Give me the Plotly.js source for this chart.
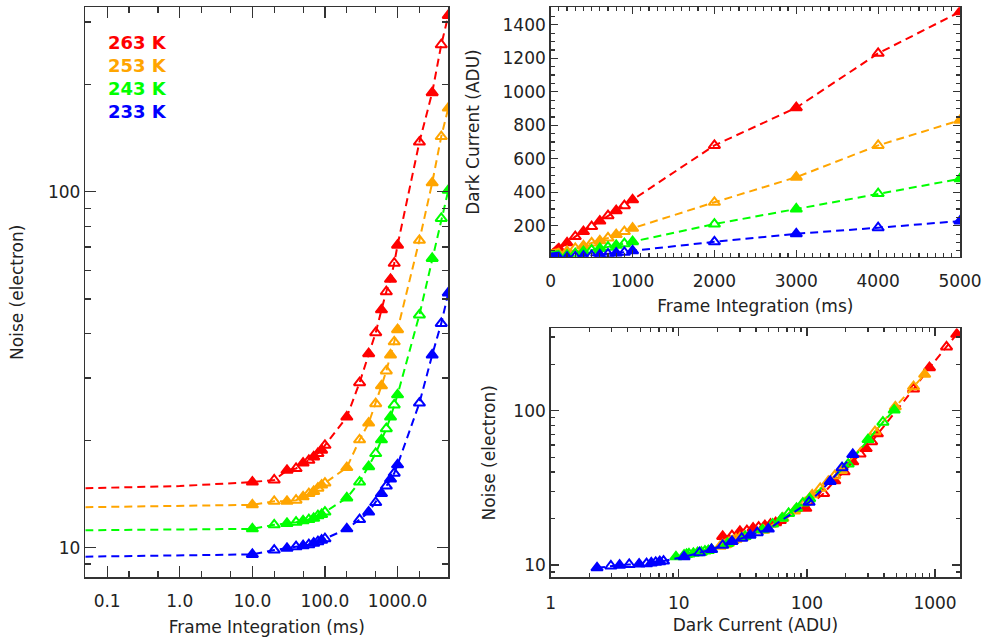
<!DOCTYPE html>
<html>
<head>
<meta charset="utf-8">
<script src="https://cdn.plot.ly/plotly-3.0.1.min.js"></script>
<style>html,body{margin:0;padding:0;background:#fff;}#chart{width:990px;height:640px;}</style>
</head>
<body>
<div id="chart"></div>
<script>
// ---- data ----
const temps = ["263 K", "253 K", "243 K", "233 K"];
const colors = ["#ff0000", "#ffa500", "#00ff00", "#0000ff"];

// frame integration times (ms)
const time = [10,20,30,40,50,60,70,80,90,100,200,300,400,500,600,700,800,900,1000,2000,3000,4000,5000];

// noise (electron)
const noise263 = [15.3,15.5,16.5,16.7,17.3,17.6,18.0,18.4,18.8,19.4,23.3,29.1,35.1,40.2,46.6,52.4,56.8,63.0,70.8,138,190,259,313];
const noise253 = [13.2,13.5,13.5,13.6,13.9,14.2,14.4,14.7,15.0,15.2,16.8,20.1,22.4,25.4,28.5,31.4,34.8,37.9,41.0,73.1,106,143,172];
const noise243 = [11.3,11.6,11.7,11.8,11.9,12.0,12.1,12.3,12.4,12.6,13.8,15.3,16.9,18.4,20.1,21.6,23.3,25.2,26.9,45.1,65.0,84.2,101];
const noise233 = [9.58,9.85,9.96,10.07,10.13,10.2,10.3,10.4,10.5,10.6,11.3,12.0,12.6,13.4,14.2,14.9,15.6,16.2,17.1,25.5,34.8,42.7,52.0];

// read-noise floor of the dashed model line at the shortest times shown
const floorTime = [0.05, 1];
const floor263 = [14.7, 14.9];
const floor253 = [13.0, 13.1];
const floor243 = [11.2, 11.25];
const floor233 = [9.44, 9.5];

// dark current (ADU)
const dc263 = [22,26,30,34,38,42,47,52,57,62,98,135,165,195,228,260,290,320,355,680,905,1230,1478];
const dc253 = [21,22,23,23.5,24.5,25.5,26.5,28,30,32,46,65,80,97,110,127,147,165,185,340,490,680,830];
const dc243 = [9.5,11,11.5,12,13,14,15,16,17,18,24,33,45,54,64,72,83,93,105,210,300,392,480];
const dc233 = [2.3,2.95,3.45,4.1,4.9,5.6,6.1,6.6,7.1,7.6,11,14.5,18,22,26,31,36,41,50,104,152,188,228];

// tick labels
const leftXTickVals = [0.1, 1, 10, 100, 1000];
const leftXTickText = ["0.1", "1.0", "10.0", "100.0", "1000.0"];

// ---- build traces ----
const noiseSets = [noise263, noise253, noise243, noise233];
const dcSets = [dc263, dc253, dc243, dc233];
const floorSets = [floor263, floor253, floor243, floor233];

const W = 990, H = 640;
const dash = "8px,5px";
const symbols = time.map((_, i) => (i % 2 === 0 ? "triangle-up" : "triangle-up-open"));

const traces = [];
for (let k = 0; k < 4; k++) {
  const c = colors[k];
  const mk = {symbol: symbols, size: 10, color: c, line: {color: c, width: 2}};
  // left panel: dashed line + markers
  traces.push({x: floorTime.concat(time), y: floorSets[k].concat(noiseSets[k]), mode: "lines",
    line: {color: c, width: 2, dash: dash}, xaxis: "x", yaxis: "y", hoverinfo: "skip", showlegend: false});
  traces.push({x: time, y: noiseSets[k], mode: "markers", marker: mk, xaxis: "x", yaxis: "y",
    name: temps[k], showlegend: false});
  // top right: dark current vs time
  traces.push({x: time, y: dcSets[k], mode: "lines+markers", marker: mk,
    line: {color: c, width: 2, dash: dash}, xaxis: "x2", yaxis: "y2", name: temps[k], showlegend: false});
  // bottom right: noise vs dark current
  traces.push({x: dcSets[k], y: noiseSets[k], mode: "lines+markers", marker: mk,
    line: {color: c, width: 2, dash: dash}, xaxis: "x3", yaxis: "y3", name: temps[k], showlegend: false});
}

const font = {family: "DejaVu Sans, sans-serif", size: 17, color: "#222"};
const axBase = {
  showgrid: false, zeroline: false, showline: true, linecolor: "#333", linewidth: 1.5,
  mirror: "allticks", ticks: "inside", tickcolor: "#333", tickwidth: 1.2,
  tickfont: font, automargin: false
};
function px(x0, x1) { return [x0 / W, x1 / W]; }
function py(yTop, yBot) { return [1 - yBot / H, 1 - yTop / H]; }

const layout = {
  width: W, height: H,
  margin: {l: 0, r: 0, t: 0, b: 0},
  paper_bgcolor: "#fff", plot_bgcolor: "#fff",
  font: font, showlegend: false,
  xaxis: Object.assign({}, axBase, {
    type: "log", domain: px(85.3, 448.3), anchor: "y",
    range: [Math.log10(0.05), Math.log10(5000)],
    tickmode: "array", tickvals: leftXTickVals, ticktext: leftXTickText, ticklen: 11,
    minor: {ticks: "inside", ticklen: 6, tickcolor: "#333", showgrid: false},
    ticklabelstandoff: 8,
    title: {text: "Frame Integration (ms)", font: font, standoff: 11}
  }),
  yaxis: Object.assign({}, axBase, {
    type: "log", domain: py(7.3, 577.3), anchor: "x",
    range: [Math.log10(8.26), Math.log10(330)], dtick: 1, ticklen: 11,
    minor: {ticks: "inside", ticklen: 6, tickcolor: "#333", showgrid: false},
    title: {text: "Noise (electron)", font: font, standoff: 20}
  }),
  xaxis2: Object.assign({}, axBase, {
    domain: px(550.7, 960), anchor: "y2", range: [0, 5000], dtick: 1000, tick0: 0, ticklen: 7,
    minor: {ticks: "inside", ticklen: 4, dtick: 100, tickcolor: "#333", showgrid: false},
    ticklabelstandoff: 8,
    title: {text: "Frame Integration (ms)", font: font, standoff: 10}
  }),
  yaxis2: Object.assign({}, axBase, {
    domain: py(7.3, 256.7), anchor: "x2", range: [15, 1505], dtick: 200, tick0: 0, ticklen: 7,
    minor: {ticks: "inside", ticklen: 4, dtick: 50, tickcolor: "#333", showgrid: false},
    title: {text: "Dark Current (ADU)", font: font, standoff: 18}
  }),
  xaxis3: Object.assign({}, axBase, {
    type: "log", domain: px(550.7, 960), anchor: "y3", range: [0, Math.log10(1567)], dtick: 1, ticklen: 8,
    minor: {ticks: "inside", ticklen: 4, tickcolor: "#333", showgrid: false},
    ticklabelstandoff: 10,
    title: {text: "Dark Current (ADU)", font: font, standoff: 7}
  }),
  yaxis3: Object.assign({}, axBase, {
    type: "log", domain: py(328.3, 577.3), anchor: "x3", range: [Math.log10(8.32), Math.log10(342)], dtick: 1, ticklen: 8,
    minor: {ticks: "inside", ticklen: 4, tickcolor: "#333", showgrid: false},
    title: {text: "Noise (electron)", font: font, standoff: 13}
  }),
  annotations: temps.map((t, k) => ({
    text: t, xref: "paper", yref: "paper", x: 106 / W, y: 1 - (42.5 + 23 * k) / H,
    xanchor: "left", yanchor: "middle", showarrow: false,
    font: {family: "DejaVu Sans, sans-serif", size: 18, color: colors[k], weight: "bold"}
  }))
};

Plotly.newPlot("chart", traces, layout, {displayModeBar: false, staticPlot: true});
</script>
</body>
</html>
